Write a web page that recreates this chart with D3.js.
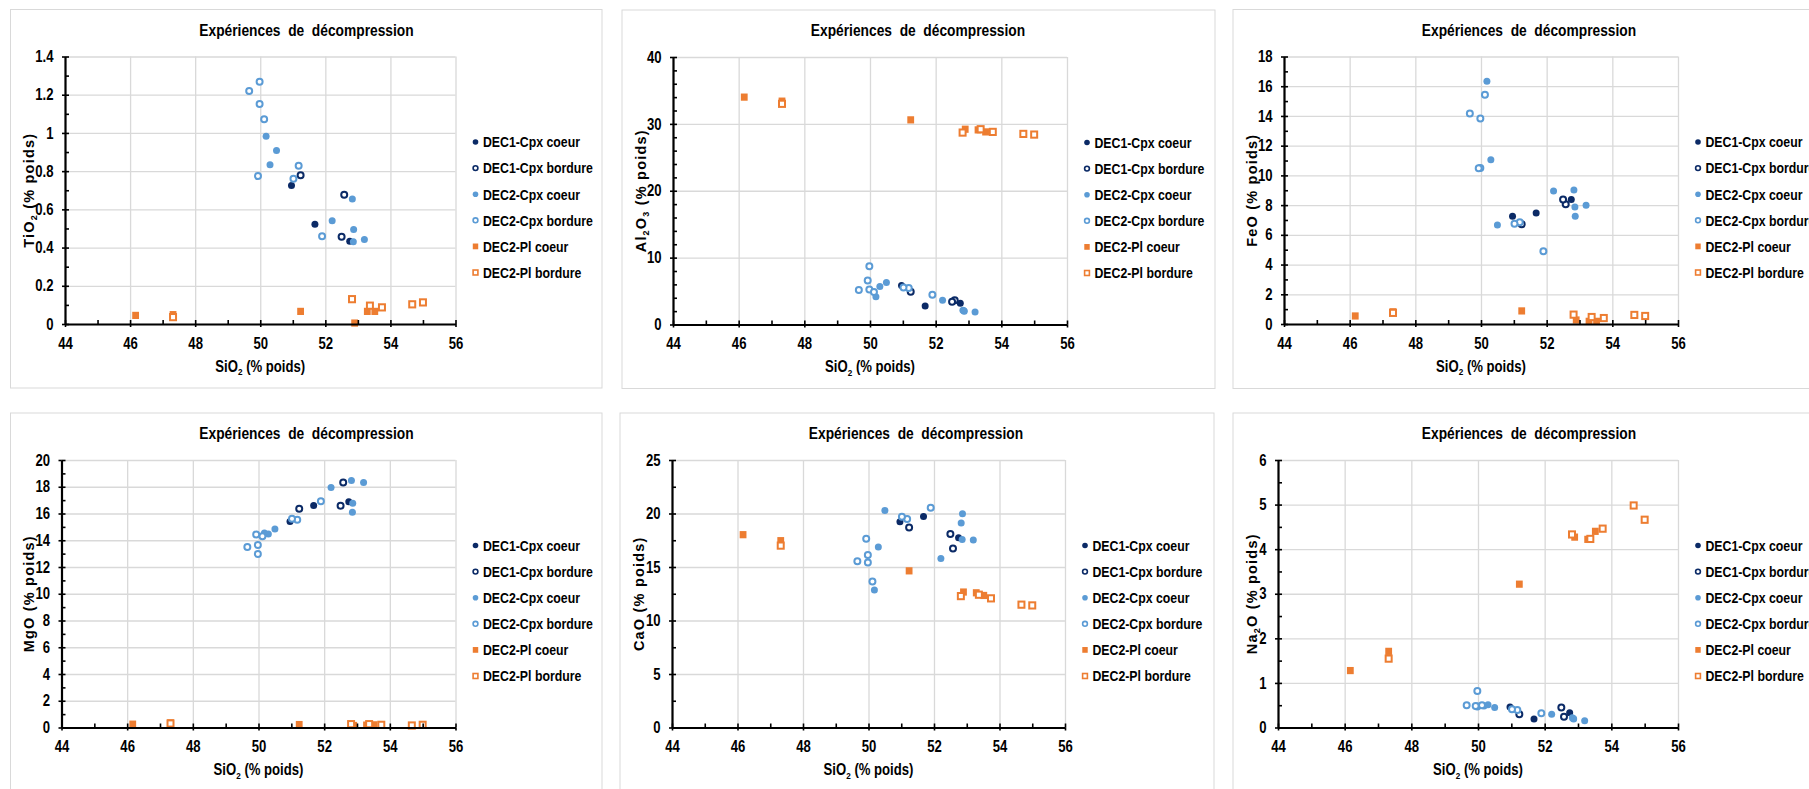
<!DOCTYPE html>
<html><head><meta charset="utf-8">
<script src="https://cdn.jsdelivr.net/npm/d3@7"></script>
<style>
body{margin:0;background:#fff;overflow:hidden}
.nar{font-family:"Liberation Sans",Arial,sans-serif;font-weight:bold;fill:#000}
.wide{font-family:"Liberation Sans",Arial,sans-serif;font-weight:bold;fill:#000;letter-spacing:1.2px}
</style>
</head><body>
<svg id="c" width="1809" height="789"></svg>
<script>
// ---------- data ----------
const seriesNames = ["DEC1-Cpx coeur","DEC1-Cpx bordure","DEC2-Cpx coeur","DEC2-Cpx bordure","DEC2-Pl coeur","DEC2-Pl bordure"];
const chartTitle = "Expériences  de  décompression";
const xDomain = [44, 56];
const xTickLabels = [44, 46, 48, 50, 52, 54, 56];

// SiO2 (x) for each series
const sio2_dec1c = [50.96, 51.68, 52.75];
const sio2_dec1b = [51.24, 52.58, 52.50];
const sio2_dec2c = [50.18, 50.50, 50.30, 52.21, 52.83, 52.87, 52.86, 53.20];
const sio2_dec2b = [49.66, 49.98, 49.98, 50.12, 49.93, 51.18, 51.02, 51.90];
const sio2_plc   = [46.17, 47.32, 51.24, 52.90, 53.29, 53.52];
const sio2_plb   = [47.32, 52.82, 53.37, 53.74, 54.67, 55.00];

// TiO2
const tio2_dec1c = [0.725, 0.522, 0.433];
const tio2_dec1b = [0.779, 0.677, 0.456];
const tio2_dec2c = [0.983, 0.908, 0.833, 0.541, 0.654, 0.494, 0.431, 0.442];
const tio2_dec2b = [1.219, 1.268, 1.151, 1.071, 0.774, 0.828, 0.760, 0.459];
const tio2_plc   = [0.045, 0.049, 0.066, 0.005, 0.066, 0.066];
const tio2_plb   = [0.036, 0.130, 0.096, 0.087, 0.103, 0.113];

// Al2O3
const al2o3_dec1c = [5.84, 2.77, 3.17];
const al2o3_dec1b = [4.90, 3.61, 3.42];
const al2o3_dec2c = [4.16, 6.29, 5.69, 3.61, 2.13, 1.98, 2.05, 1.88];
const al2o3_dec2b = [5.15, 8.71, 5.25, 4.85, 6.58, 5.45, 5.54, 4.46];
const al2o3_plc   = [34.0, 33.4, 30.6, 29.2, 29.1, 28.8];
const al2o3_plb   = [33.0, 28.7, 29.2, 28.8, 28.5, 28.4];

// FeO
const feo_dec1c = [7.25, 7.47, 8.37];
const feo_dec1b = [6.71, 8.06, 8.37];
const feo_dec2c = [16.34, 6.67, 11.06, 8.95, 9.02, 7.25, 7.88, 7.99];
const feo_dec2b = [14.16, 13.82, 10.50, 15.42, 10.48, 6.85, 6.75, 4.89];
const feo_plc   = [0.54, 0.82, 0.88, 0.27, 0.18, 0.18];
const feo_plb   = [0.75, 0.63, 0.47, 0.40, 0.61, 0.54];

// MgO
const mgo_dec1c = [15.41, 16.60, 16.87];
const mgo_dec1b = [16.35, 18.31, 16.58];
const mgo_dec2c = [14.55, 14.84, 14.47, 17.94, 18.46, 16.77, 16.10, 18.31];
const mgo_dec2b = [13.50, 13.65, 12.98, 14.30, 14.43, 15.54, 15.61, 16.92];
const mgo_plc   = [0.25, 0.35, 0.22, 0.15, 0.18, 0.20];
const mgo_plb   = [0.30, 0.25, 0.25, 0.20, 0.15, 0.20];

// CaO
const cao_dec1c = [19.23, 19.73, 17.74];
const cao_dec1b = [18.70, 16.72, 18.08];
const cao_dec2c = [12.84, 20.29, 16.87, 15.79, 19.11, 19.98, 17.56, 17.53];
const cao_dec2b = [15.54, 16.13, 15.42, 13.65, 17.65, 19.48, 19.70, 20.53];
const cao_plc   = [18.02, 17.46, 14.64, 12.66, 12.59, 12.34];
const cao_plb   = [17.00, 12.28, 12.41, 12.07, 11.48, 11.41];

// Na2O
const na2o_dec1c = [0.46, 0.19, 0.33];
const na2o_dec1b = [0.30, 0.24, 0.45];
const na2o_dec2c = [0.48, 0.45, 0.51, 0.30, 0.22, 0.19, 0.20, 0.15];
const na2o_dec2b = [0.50, 0.82, 0.47, 0.50, 0.48, 0.39, 0.41, 0.32];
const na2o_plc   = [1.277, 1.708, 3.215, 4.27, 4.22, 4.40];
const na2o_plb   = [1.545, 4.33, 4.23, 4.46, 4.98, 4.66];

// y axes (max, major step, minor step)
const tio2Axis  = [1.4, 0.2, 0.1];
const al2o3Axis = [40, 10, 2];
const feoAxis   = [18, 2, 1];
const mgoAxis   = [20, 2, 1];
const caoAxis   = [25, 5, 2.5];
const na2oAxis  = [6, 1, 0.5];

// y-axis titles (text, subscript?) pieces
const tio2Label  = [["TiO",0],["2",1],[" (% poids)",0]];
const al2o3Label = [["Al",0],["2",1],["O",0],["3",1],[" (% poids)",0]];
const feoLabel   = [["FeO (% poids)",0]];
const mgoLabel   = [["MgO (% poids)",0]];
const caoLabel   = [["CaO (% poids)",0]];
const na2oLabel  = [["Na",0],["2",1],["O (% poids)",0]];
const xLabel     = [["SiO",0],["2",1],[" (% poids)",0]];

// ---------- styles ----------
const SX = 0.82; // narrow font look
const colors = ["#0b2a66","#0b2a66","#5b9bd5","#5b9bd5","#ed7d31","#ed7d31"];
const shapes = ["dot","ring","dot","ring","sq","sqo"];
const sio2All = [sio2_dec1c, sio2_dec1b, sio2_dec2c, sio2_dec2b, sio2_plc, sio2_plb];

const panels = [
  {L:10.5, T:9.5, W:591.5, H:378.5, x0off:54.5, lab:tio2Label,  ax:tio2Axis,  vals:[tio2_dec1c,tio2_dec1b,tio2_dec2c,tio2_dec2b,tio2_plc,tio2_plb]},
  {L:622,  T:10,  W:593,   H:378.5, x0off:51,   lab:al2o3Label, ax:al2o3Axis, vals:[al2o3_dec1c,al2o3_dec1b,al2o3_dec2c,al2o3_dec2b,al2o3_plc,al2o3_plb]},
  {L:1233, T:9.5, W:600,   H:379,   x0off:51,   lab:feoLabel,   ax:feoAxis,   vals:[feo_dec1c,feo_dec1b,feo_dec2c,feo_dec2b,feo_plc,feo_plb]},
  {L:10.5, T:413, W:591.5, H:400,   x0off:51,   lab:mgoLabel,   ax:mgoAxis,   vals:[mgo_dec1c,mgo_dec1b,mgo_dec2c,mgo_dec2b,mgo_plc,mgo_plb]},
  {L:620,  T:413, W:594,   H:400,   x0off:52,   lab:caoLabel,   ax:caoAxis,   vals:[cao_dec1c,cao_dec1b,cao_dec2c,cao_dec2b,cao_plc,cao_plb]},
  {L:1233, T:413, W:600,   H:400,   x0off:45,   lab:na2oLabel,  ax:na2oAxis,  vals:[na2o_dec1c,na2o_dec1b,na2o_dec2c,na2o_dec2b,na2o_plc,na2o_plb]}
];

const svg = d3.select("#c");
const fmt = v => String(+v.toFixed(2));

function marker(g, shape, color, cx, cy, s) {
  if (shape === "dot") g.append("circle").attr("cx",cx).attr("cy",cy).attr("r",3.5*s).attr("fill",color);
  else if (shape === "ring") g.append("circle").attr("cx",cx).attr("cy",cy).attr("r",3.0*s).attr("fill","#fff").attr("stroke",color).attr("stroke-width",2*s);
  else if (shape === "sq") g.append("rect").attr("x",cx-3.4*s).attr("y",cy-3.6*s).attr("width",6.8*s).attr("height",7.2*s).attr("fill",color);
  else g.append("rect").attr("x",cx-3*s).attr("y",cy-3.1*s).attr("width",6*s).attr("height",6.2*s).attr("fill","#fff").attr("stroke",color).attr("stroke-width",2*s);
}

function richText(t, parts, size) {
  let prevSub = false;
  parts.forEach(([s, sub]) => {
    const ts = t.append("tspan").text(s);
    if (sub && !prevSub) ts.attr("dy", size*0.22).style("font-size", (size*0.62)+"px");
    else if (sub) ts.style("font-size", (size*0.62)+"px");
    else if (prevSub) ts.attr("dy", -size*0.22);
    prevSub = !!sub;
  });
}

function ntext(parent, x, y, size, anchor, parts) {
  const t = parent.append("text").attr("class","nar")
    .attr("transform", `translate(${x},${y}) scale(${SX},1)`)
    .attr("text-anchor", anchor).style("font-size", size+"px").style("white-space","pre");
  richText(t, parts, size);
  return t;
}

panels.forEach(p => {
  const g = svg.append("g");
  g.append("rect").attr("x",p.L).attr("y",p.T).attr("width",p.W).attr("height",p.H)
    .attr("fill","#fff").attr("stroke","#d9d9d9").attr("stroke-width",1);

  const x0 = p.L + p.x0off, x1 = p.L + 445;
  const yT = p.T + 47, yB = p.T + 314.5;
  const [ymax, step, minor] = p.ax;
  const x = d3.scaleLinear().domain(xDomain).range([x0, x1]);
  const y = d3.scaleLinear().domain([0, ymax]).range([yB, yT]);
  const yMaj = d3.range(0, ymax + step/2, step);
  const yMin = d3.range(0, ymax + minor/2, minor);
  const xMin = d3.range(xDomain[0], xDomain[1] + 0.5, 1);

  // gridlines
  g.append("g").attr("transform",`translate(0,${yB})`)
    .call(d3.axisBottom(x).tickValues(xTickLabels).tickSize(-(yB-yT)).tickFormat(""))
    .call(a => { a.select(".domain").remove(); a.selectAll("line").attr("stroke","#d9d9d9").attr("stroke-width",1.3); });
  g.append("g").attr("transform",`translate(${x0},0)`)
    .call(d3.axisLeft(y).tickValues(yMaj).tickSize(-(x1-x0)).tickFormat(""))
    .call(a => { a.select(".domain").remove(); a.selectAll("line").attr("stroke","#d9d9d9").attr("stroke-width",1.3); });

  // title
  ntext(g, p.L+296, p.T+26, 16.8, "middle", [[chartTitle,0]]);

  // points
  p.vals.forEach((vals, si) => {
    const gs = g.append("g");
    vals.forEach((v, i) => marker(gs, shapes[si], colors[si], x(sio2All[si][i]), y(v), 1));
  });

  // axes lines & minor ticks
  const ax = g.append("g");
  ax.append("g").attr("transform",`translate(0,${yB})`)
    .call(d3.axisBottom(x).tickValues(xMin).tickSizeInner(-4).tickSizeOuter(0).tickFormat(""))
    .call(a => { a.select(".domain").attr("stroke","#000").attr("stroke-width",2.2); a.selectAll("line").attr("stroke","#000").attr("stroke-width",1.6); });
  ax.append("g").attr("transform",`translate(${x0},0)`)
    .call(d3.axisLeft(y).tickValues(yMin).tickSizeInner(-4).tickSizeOuter(0).tickFormat(""))
    .call(a => { a.select(".domain").attr("stroke","#000").attr("stroke-width",2.2); a.selectAll("line").attr("stroke","#000").attr("stroke-width",1.6); });
  // major ticks + labels
  ax.append("g").attr("transform",`translate(0,${yB})`)
    .call(d3.axisBottom(x).tickValues(xTickLabels).tickSize(3).tickPadding(10.5).tickFormat(d3.format("d")))
    .call(a => { a.select(".domain").remove(); a.selectAll("line").attr("stroke","#000").attr("stroke-width",1.6);
      a.selectAll("text").attr("class","nar").style("font-size","16px").attr("transform",`scale(${SX},1)`); });
  ax.append("g").attr("transform",`translate(${x0},0)`)
    .call(d3.axisLeft(y).tickValues(yMaj).tickSize(3).tickPadding(8).tickFormat(fmt))
    .call(a => { a.select(".domain").remove(); a.selectAll("line").attr("stroke","#000").attr("stroke-width",1.6);
      a.selectAll("text").attr("class","nar").style("font-size","16px").attr("x", -11.5/SX).attr("transform",`scale(${SX},1)`); });

  // x axis title
  ntext(g, (x0+x1)/2, yB+47.5, 16, "middle", xLabel);

  // y axis title
  const yc = (yT+yB)/2;
  const yt = g.append("text").attr("class","wide")
    .attr("transform",`translate(${p.L+23.5},${yc}) rotate(-90)`)
    .attr("text-anchor","middle").style("font-size","14.5px").style("white-space","pre");
  richText(yt, p.lab, 14.5);

  // legend
  const lg = g.append("g");
  seriesNames.forEach((nm, i) => {
    const cy = p.T + 132.5 + i*26.1;
    marker(lg, shapes[i], colors[i], p.L+465, cy, 0.8);
    ntext(lg, p.L+472.5, cy+5.3, 15, "start", [[nm,0]]);
  });
});
</script>
</body></html>
